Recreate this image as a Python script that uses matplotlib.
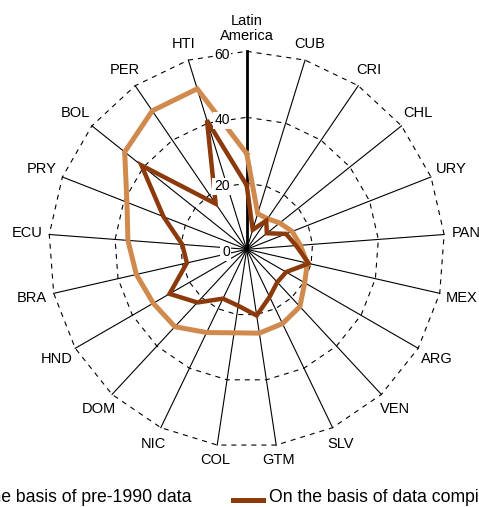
import numpy as np
import matplotlib
matplotlib.use("Agg")
from matplotlib import pyplot as plt
from matplotlib.lines import Line2D

# categories, clockwise from the top
countries = ["Latin\nAmerica", "CUB", "CRI", "CHL", "URY", "PAN", "MEX", "ARG", "VEN", "SLV",
             "GTM", "COL", "NIC", "DOM", "HND", "BRA", "ECU", "PRY", "BOL", "PER", "HTI"]

# values
pre1990 = [29.0, 11.3, 11.2, 12.8, 14.8, 16.3, 18.8, 20.3, 23.7, 25.0, 25.7,
           25.6, 28.0, 32.0, 32.7, 34.3, 36.1, 39.0, 47.3, 50.8, 50.9]
compiled = [19.4, 6.2, 10.5, 7.8, 12.8, 15.0, 19.3, 13.8, 13.6, 16.0, 20.3,
            17.3, 16.6, 22.0, 27.0, 18.6, 19.6, 27.1, 40.8, 16.7, 40.9]

ring_values = [0, 20, 40, 60]
ring_labels = ["0", "20", "40", "60"]
legend_labels = ["On the basis of pre-1990 data",
                 "On the basis of data compiled in the 1990s"]

light = "#d08a4e"
dark = "#8c3a0c"

plt.rcParams['font.family'] = ['Liberation Sans', 'DejaVu Sans']

fig = plt.figure(figsize=(4.79, 5.07), dpi=100)
ax = fig.add_axes([0.1017, 0.1178, 0.8267, 0.781], projection='polar')
ax.set_theta_zero_location('N')
ax.set_theta_direction(-1)
ax.set_ylim(0, 60)
ax.axis('off')

n = len(countries)
theta = np.arange(n) * 2 * np.pi / n
theta_c = np.append(theta, theta[0])

# polygon grid
for r in ring_values[1:]:
	ax.plot(theta_c, [r] * (n + 1), color='k', lw=0.8, dashes=(4.5, 4.5), clip_on=False, zorder=1)

# spokes
for i, t in enumerate(theta):
	ax.plot([t, t], [0, 60], color='k', lw=2.0 if i == 0 else 0.8, clip_on=False, zorder=1)

# series
ax.plot(theta_c, np.append(pre1990, pre1990[0]), color=light, lw=3.6,
	solid_joinstyle='miter', clip_on=False, zorder=2)
ax.plot(theta_c, np.append(compiled, compiled[0]), color=dark, lw=3.2,
	solid_joinstyle='miter', clip_on=False, zorder=3)

# radial tick labels
for r, lab in zip(ring_values, ring_labels):
	ax.annotate(lab, xy=(0, r), xytext=(-12.2, -2.3), textcoords='offset points',
		ha='right', va='center', fontsize=10, zorder=5,
		bbox=dict(facecolor='white', edgecolor='none', pad=1.2))

# category labels
for i, (t, lab) in enumerate(zip(theta, countries)):
	rl = 66.9 if i == 0 else 64.3 + 2.5 * abs(np.sin(t))
	ax.text(t, rl, lab, ha='center', va='center', fontsize=10.5, linespacing=1.15)

# legend, wider than the figure
y_leg = 1 - 498 / 507.0
fig.text(191.7 / 479, y_leg, legend_labels[0], ha='right', va='center', fontsize=12.7)
fig.add_artist(Line2D([-77 / 479, -48 / 479], [1 - 500 / 507.0] * 2, color=light, lw=3.6,
	transform=fig.transFigure))
fig.add_artist(Line2D([232.7 / 479, 262.7 / 479], [1 - 500 / 507.0] * 2, color=dark, lw=3.6,
	transform=fig.transFigure))
fig.text(269.3 / 479, y_leg, legend_labels[1], ha='left', va='center', fontsize=12.7)

fig.savefig("out.png", dpi=100)
